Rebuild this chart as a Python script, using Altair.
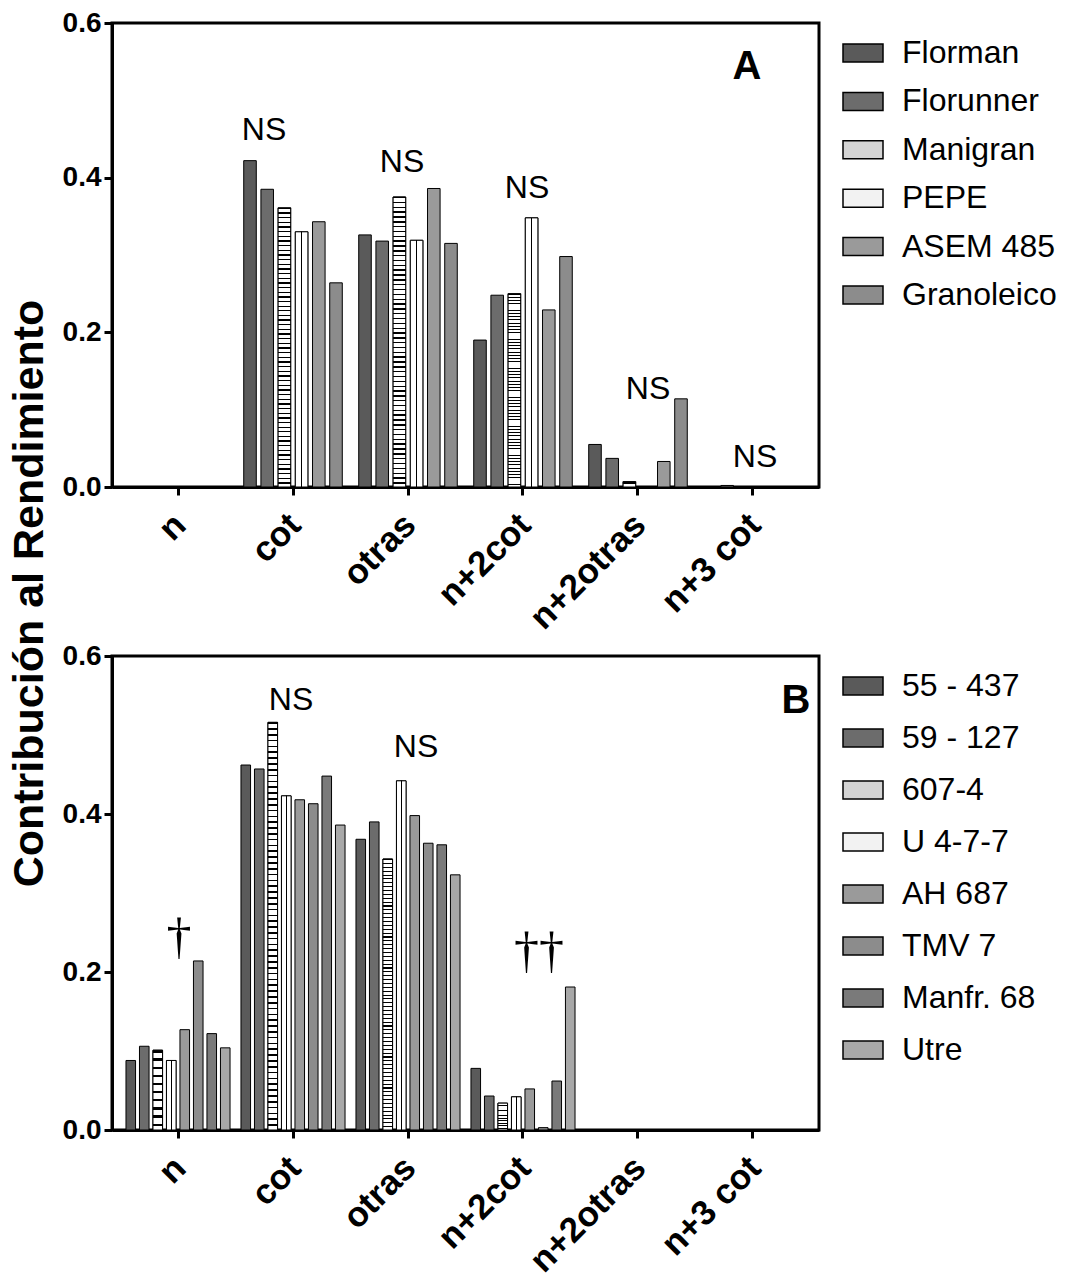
import altair as alt
import pandas as pd

# ---------------- data ----------------
categories = ["n", "cot", "otras", "n+2cot", "n+2otras", "n+3 cot"]

varieties_a = ["Florman", "Florunner", "Manigran", "PEPE", "ASEM 485", "Granoleico"]
a_florman = [0.0, 0.422, 0.326, 0.190, 0.055, 0.0]
a_florunner = [0.0, 0.385, 0.318, 0.248, 0.037, 0.002]
a_manigran = [0.0, 0.361, 0.375, 0.250, 0.007, 0.0]
a_pepe = [0.0, 0.330, 0.319, 0.348, 0.0, 0.0]
a_asem = [0.0, 0.343, 0.386, 0.229, 0.033, 0.0]
a_granoleico = [0.0, 0.264, 0.315, 0.298, 0.114, 0.0]
series_a = [a_florman, a_florunner, a_manigran, a_pepe, a_asem, a_granoleico]

varieties_b = ["55 - 437", "59 - 127", "607-4", "U 4-7-7", "AH 687", "TMV 7", "Manfr. 68", "Utre"]
b_55437 = [0.088, 0.462, 0.368, 0.078, 0.0, 0.0]
b_59127 = [0.106, 0.457, 0.390, 0.043, 0.0, 0.0]
b_6074 = [0.101, 0.516, 0.343, 0.034, 0.0, 0.0]
b_u477 = [0.088, 0.423, 0.442, 0.042, 0.0, 0.0]
b_ah687 = [0.127, 0.418, 0.398, 0.052, 0.0, 0.0]
b_tmv7 = [0.214, 0.413, 0.363, 0.003, 0.0, 0.0]
b_manfr68 = [0.122, 0.448, 0.361, 0.062, 0.0, 0.0]
b_utre = [0.104, 0.386, 0.323, 0.181, 0.0, 0.0]
series_b = [b_55437, b_59127, b_6074, b_u477, b_ah687, b_tmv7, b_manfr68, b_utre]

ann_a_cat = ["cot", "otras", "n+2cot", "n+2otras", "n+3 cot", "n+3 cot"]
ann_a_val = [0.462, 0.420, 0.386, 0.127, 0.039, 0.543]
ann_a_txt = ["NS", "NS", "NS", "NS", "NS", "A"]

ann_b_cat = ["n", "cot", "otras", "n+2cot", "n+3 cot"]
ann_b_val = [0.243, 0.544, 0.485, 0.225, 0.543]
ann_b_txt = ["\u2020", "NS", "NS", "\u2020\u2020", "B"]

# ---------------- styles ----------------
ann_a_dx = [-29, -6, 4, 10, 2, -6]
ann_b_dx = [1, -2, 8, 16, 43]
fills_a = ["#5a5a5a", "#6c6c6c", "#d4d4d4", "#f2f2f2", "#9a9a9a", "#8c8c8c"]
fills_b = ["#5a5a5a", "#6c6c6c", "#d4d4d4", "#f2f2f2", "#9a9a9a", "#8c8c8c", "#7a7a7a", "#a8a8a8"]
FONT = "Liberation Sans"
RECT = "M-1,-0.45H1V0.45H-1Z"


def h_stripes(n, frac):
    stops = [{"offset": 0, "color": "white"}]
    for i in range(n):
        s = i / n
        e = s + frac / n
        stops += [{"offset": s, "color": "white"}, {"offset": s, "color": "black"},
                  {"offset": e, "color": "black"}, {"offset": e, "color": "white"}]
    stops.append({"offset": 1, "color": "white"})
    return {"gradient": "linear", "x1": 0, "y1": 0, "x2": 0, "y2": 1, "stops": stops}


def v_stripes():
    stops = [{"offset": 0, "color": "white"}, {"offset": 0.44, "color": "white"},
             {"offset": 0.44, "color": "black"}, {"offset": 0.56, "color": "black"},
             {"offset": 0.56, "color": "white"}, {"offset": 1, "color": "white"}]
    return {"gradient": "linear", "x1": 0, "y1": 0, "x2": 1, "y2": 0, "stops": stops}


def build_df(varieties, series):
    rows = []
    for v, vals in zip(varieties, series):
        for c, val in zip(categories, vals):
            rows.append({"categoria": c, "variedad": v, "valor": val})
    return pd.DataFrame(rows)


def panel(varieties, series, fills, hvar, vvar, nstripes, height, pi, po,
          acat, aval, atxt, adx, legend_y, row_pad, title):
    df = build_df(varieties, series)
    x = alt.X("categoria:N", sort=categories,
              scale=alt.Scale(domain=categories, paddingInner=0, paddingOuter=0.074),
              axis=alt.Axis(title=None, labelAngle=-45, labelAlign="right", labelBaseline="middle",
                            labelFontSize=35, labelFontWeight="bold", labelFont=FONT,
                            labelColor="black", labelPadding=24, labelOffset=2, tickSize=8,
                            tickWidth=3, tickColor="black", domainWidth=3, domainColor="black",
                            grid=False))
    yaxis = dict(values=[0, 0.2, 0.4, 0.6], format=".1f", labelFontSize=28,
                 labelFontWeight="bold", labelFont=FONT, labelColor="black", labelPadding=3,
                 tickSize=8, tickWidth=3, tickColor="black", domainWidth=3,
                 domainColor="black", grid=False)
    if title:
        yaxis.update(title=title, titleX=-83, titleY=570, titleAngle=270, titleAlign="center",
                     titleBaseline="middle", titleFontSize=43, titleFontWeight="bold",
                     titleFont=FONT, titleColor="black")
    else:
        yaxis.update(title=None)
    y = alt.Y("valor:Q", scale=alt.Scale(domain=[0, 0.6], nice=False), axis=alt.Axis(**yaxis))
    xo = alt.XOffset("variedad:N", sort=varieties,
                     scale=alt.Scale(domain=varieties, paddingInner=pi, paddingOuter=po))

    bars = alt.Chart(df).mark_bar(stroke="black", strokeWidth=1).encode(
        x=x, xOffset=xo, y=y,
        fill=alt.Fill("variedad:N", sort=varieties,
                      scale=alt.Scale(domain=varieties, range=fills),
                      legend=alt.Legend(title=None, orient="none", legendX=730, legendY=legend_y,
                                        symbolType=RECT, symbolSize=1600,
                                        symbolStrokeColor="black", symbolStrokeWidth=1.5,
                                        labelFontSize=32, labelFont=FONT, labelColor="black",
                                        labelOffset=18, rowPadding=row_pad, labelLimit=400,
                                        padding=0)))
    layers = [bars]
    for v in hvar:
        layers.append(alt.Chart(df).transform_filter(alt.datum.variedad == v)
                      .mark_bar(stroke="black", strokeWidth=1, fill=h_stripes(nstripes, 0.28))
                      .encode(x=x, xOffset=xo, y=y))
    for v in vvar:
        layers.append(alt.Chart(df).transform_filter(alt.datum.variedad == v)
                      .mark_bar(stroke="black", strokeWidth=1, fill=v_stripes())
                      .encode(x=x, xOffset=xo, y=y))
    for c, val, t, dx in zip(acat, aval, atxt, adx):
        adf = pd.DataFrame({"categoria": [c], "valor": [val], "texto": [t]})
        if t in ("A", "B"):
            mk = alt.Chart(adf).mark_text(dx=dx, fontSize=40, fontWeight="bold", font=FONT, color="black")
        elif "\u2020" in t:
            mk = alt.Chart(adf).mark_text(dx=dx, fontSize=50, font="Liberation Serif", color="black")
        else:
            mk = alt.Chart(adf).mark_text(dx=dx, fontSize=32, font=FONT, color="black")
        layers.append(mk.encode(x=x, y=y, text="texto:N"))
    return alt.layer(*layers).properties(width=707, height=height)


pa = panel(varieties_a, series_a, fills_a, ["Manigran"], ["PEPE"], 60, 464, 0.27, 0.478,
           ann_a_cat, ann_a_val, ann_a_txt, ann_a_dx, 9, 11.4, "Contribución al Rendimiento")
pb = panel(varieties_b, series_b, fills_b, ["607-4"], ["U 4-7-7"], 70, 474, 0.29, 0.405,
           ann_b_cat, ann_b_val, ann_b_txt, ann_b_dx, 9, 15, None)

chart = alt.vconcat(pa, pb, spacing=169, bounds="flush").resolve_scale(
    fill="independent", x="independent", y="independent", xOffset="independent"
).properties(
    padding={"left": 6, "top": 7, "right": 5, "bottom": 5},
    background="white"
).configure_view(stroke="black", strokeWidth=3)

chart.save("out.html", embed_options={"renderer": "svg", "actions": False})
